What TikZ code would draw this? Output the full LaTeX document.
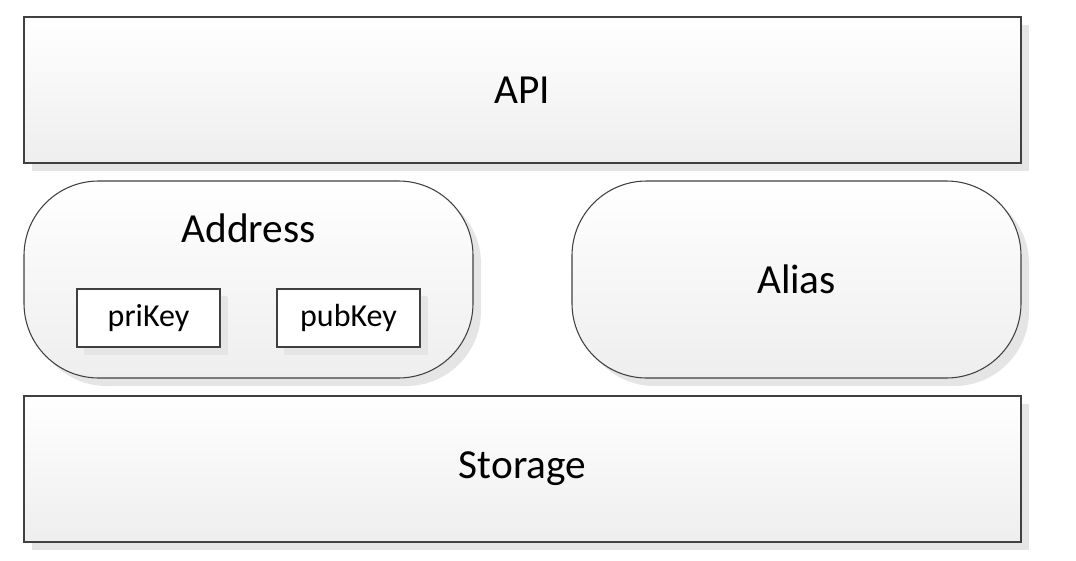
\documentclass[tikz,border=0pt]{standalone}
\usepackage{fontspec}
\setmainfont{Carlito}
\usetikzlibrary{shadows}
\definecolor{lineColor}{HTML}{404040}
\definecolor{shadeColor}{HTML}{EEEEEE}
\definecolor{shadowColor}{HTML}{E5E5E5}
\tikzset{
	layer/.style={draw=lineColor, line width=1pt, top color=white, bottom color=shadeColor,
		drop shadow={shadow xshift=6pt, shadow yshift=-6pt, fill=shadowColor, opacity=1},
		inner sep=0, outer sep=0, font=\fontsize{31}{36}\selectfont},
	part/.style={layer, rounded corners=56pt, line width=0.8pt, minimum width=336.75pt, minimum height=147.75pt},
	key/.style={layer, line width=0.8pt, top color=white, bottom color=white,
		drop shadow={shadow xshift=5pt, shadow yshift=-5pt, fill=shadowColor, opacity=1},
		minimum width=107.25pt, minimum height=43.5pt, font=\fontsize{24}{28}\selectfont}
}
\begin{document}
\begin{tikzpicture}[x=0.75pt, y=-0.75pt]
	\useasboundingbox (0,0) rectangle (1076,561);
	\node[layer, minimum width=747.75pt, minimum height=109.5pt] (api) at (522.5, 90) {API};
	\node[part] (address) at (248.5, 279.5) {};
	\node[inner sep=0, font=\fontsize{31}{36}\selectfont] (address_lab) at (248.5, 228) {Address};
	\node[key] (prikey) at (148.5, 318) {priKey};
	\node[key] (pubkey) at (348.5, 318) {pubKey};
	\node[part] (alias) at (796.5, 279.5) {Alias};
	\node[layer, minimum width=747.75pt, minimum height=109.5pt] (storage) at (522.5, 469) {Storage};
\end{tikzpicture}
\end{document}
